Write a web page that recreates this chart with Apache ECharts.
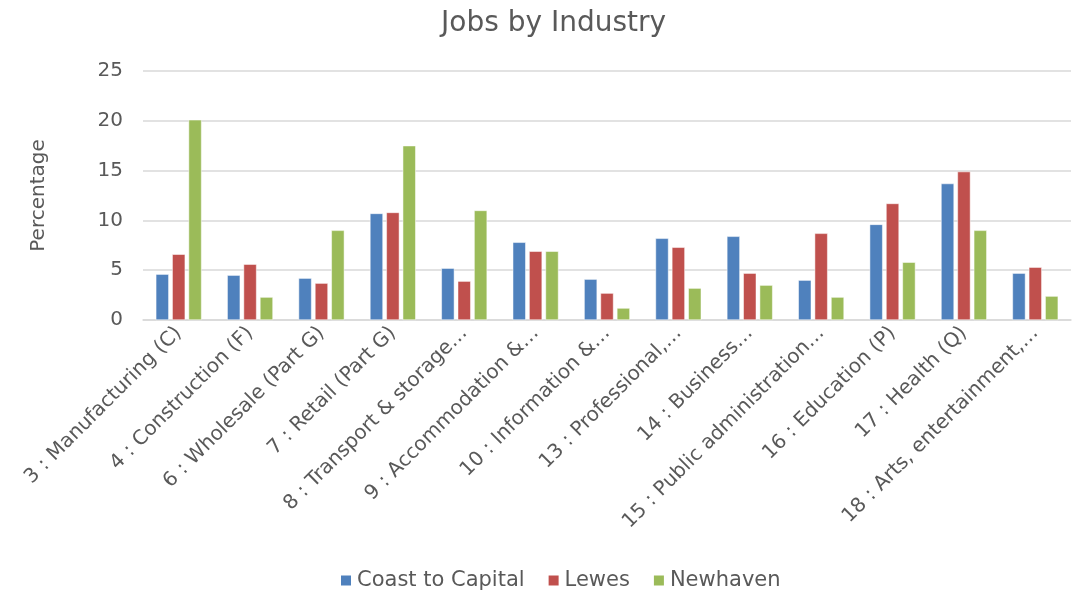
<!DOCTYPE html>
<html>
<head>
<meta charset="utf-8">
<script src="https://cdn.jsdelivr.net/npm/echarts@6/dist/echarts.min.js"></script>
<style>
    html, body { margin: 0; padding: 0; background: #fff; }
    #chart { width: 1082px; height: 599px; }
</style>
</head>
<body>
<div id="chart"></div>
<script>
    var categories = [
        '3 : Manufacturing (C)', '4 : Construction (F)', '6 : Wholesale (Part G)',
        '7 : Retail (Part G)', '8 : Transport & storage…', '9 : Accommodation &…',
        '10 : Information &…', '13 : Professional,…', '14 : Business…',
        '15 : Public administration…', '16 : Education (P)', '17 : Health (Q)',
        '18 : Arts, entertainment,…'
    ];
    var coastToCapital = [4.6, 4.5, 4.2, 10.7, 5.2, 7.8, 4.1, 8.2, 8.4, 4.0, 9.6, 13.7, 4.7];
    var lewes = [6.6, 5.6, 3.7, 10.8, 3.9, 6.9, 2.7, 7.3, 4.7, 8.7, 11.7, 14.9, 5.3];
    var newhaven = [20.1, 2.3, 9.0, 17.5, 11.0, 6.9, 1.2, 3.2, 3.5, 2.3, 5.8, 9.0, 2.4];
    var yTicks = [0, 5, 10, 15, 20, 25];

    var font = 'DejaVu Sans';
    var textColor = '#595959';

    function barSeries(name, data, color) {
        return {
            name: name,
            type: 'bar',
            data: data,
            barWidth: 13,
            barGap: '26%',
            itemStyle: {
                color: color,
                borderColor: '#fff',
                borderWidth: 0.5
            }
        };
    }

    var chart = echarts.init(document.getElementById('chart'));
    var option = {
        animation: false,
        textStyle: { fontFamily: font },
        title: {
            text: 'Jobs by Industry',
            left: 436,
            top: 5,
            textStyle: {
                color: textColor,
                fontFamily: font,
                fontSize: 28,
                fontWeight: 'normal'
            }
        },
        legend: {
            bottom: 3,
            left: 334,
            itemWidth: 12,
            itemHeight: 12,
            itemGap: 22,
            icon: 'rect',
            textStyle: { color: textColor, fontFamily: font, fontSize: 21 }
        },
        grid: {
            left: 143,
            right: 11,
            top: 71,
            bottom: 279
        },
        xAxis: {
            type: 'category',
            data: categories,
            axisTick: { show: false },
            axisLine: { lineStyle: { color: '#d9d9d9', width: 1.5 } },
            axisLabel: {
                interval: 0,
                rotate: 45,
                color: textColor,
                fontFamily: font,
                fontSize: 20,
                margin: 10
            }
        },
        yAxis: {
            type: 'value',
            min: yTicks[0],
            max: yTicks[yTicks.length - 1],
            interval: 5,
            name: 'Percentage',
            nameLocation: 'middle',
            nameGap: 94,
            nameTextStyle: { color: textColor, fontFamily: font, fontSize: 20 },
            axisLine: { show: false },
            axisTick: { show: false },
            axisLabel: {
                color: textColor,
                fontFamily: font,
                fontSize: 20,
                margin: 20
            },
            splitLine: { lineStyle: { color: '#d9d9d9', width: 1.5 } }
        },
        series: [
            barSeries('Coast to Capital', coastToCapital, '#4F81BD'),
            barSeries('Lewes', lewes, '#C0504D'),
            barSeries('Newhaven', newhaven, '#9BBB59')
        ]
    };
    chart.setOption(option);
</script>
</body>
</html>
